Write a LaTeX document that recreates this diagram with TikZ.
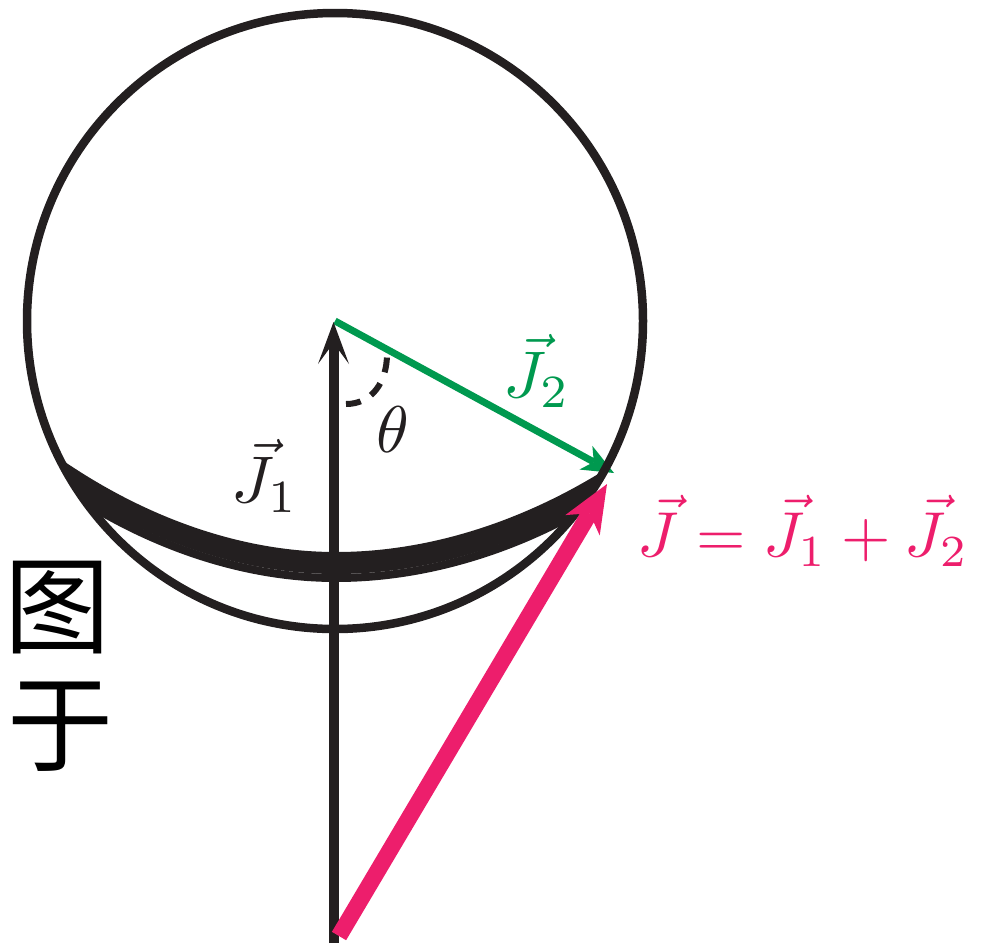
\documentclass[tikz,border=0pt]{standalone}
\usepackage{graphicx}
\usepackage{fontspec}
\newfontfamily\cjk{Noto Sans CJK SC}
\usetikzlibrary{arrows.meta}
\definecolor{ink}{RGB}{35,31,32}
\definecolor{jpink}{RGB}{237,30,108}
\definecolor{jgreen}{RGB}{0,153,79}
\newcommand{\hugemathlabel}[2][6.6]{\scalebox{#1}{$#2$}}
\tikzset{
  ring/.style={draw=ink, line width=8.5pt},
  band/.style={draw=ink, line width=8pt},
  jonearrow/.style={draw=ink, line width=10pt,
    -{Stealth[length=42pt, width=31pt, inset=21pt, line width=0pt]}},
  jtwoarrow/.style={draw=jgreen, line width=7pt,
    -{Stealth[length=32pt, width=27pt, inset=9pt, line width=0pt]}},
  jsumarrow/.style={draw=jpink, line width=16.5pt,
    -{Stealth[length=48pt, width=40pt, inset=14pt, line width=0pt]}},
  anglemark/.style={draw=ink, line width=6pt, dash pattern=on 15pt off 12pt},
  lbl/.style={inner sep=0pt},
  cjklbl/.style={inner sep=0pt, font=\cjk\fontsize{106}{110}\selectfont, text=black}
}
\begin{document}
\begin{tikzpicture}[x=1pt, y=-1pt]
\useasboundingbox (0,0) rectangle (985,943);
% key points
\coordinate (O) at (335,321);
\coordinate (J1base) at (333.5,943);
\coordinate (J1tip) at (333.5,322);
\coordinate (J2tip) at (614,473);
\coordinate (Jbase) at (339,936);
\coordinate (Jtip) at (607,484);
\coordinate (th1) at (346,404);
\coordinate (th2) at (387,354);
% J2 vector (under the circle)
\draw[jtwoarrow] (O) -- (J2tip);
% sphere outline
\draw[ring] (O) circle[radius=308];
% precession band
\draw[band] (63,465.5) parabola bend (336,556) (601,477);
\draw[band] (70,477.5) parabola bend (336,563) (593,489);
\draw[band] (77,489) parabola bend (336,570) (585,500.7);
\draw[band] (88,504) parabola bend (336,578) (575,514);
% J1 vector
\draw[jonearrow] (J1base) -- (J1tip);
% angle
\draw[anglemark] (th1) .. controls (372,404) and (387,382) .. (th2);
% J vector
\draw[jsumarrow] (Jbase) -- (Jtip);
% labels
\node[lbl, text=jgreen] (lJ2) at (537,371) {\hugemathlabel{\vec{J}_2}};
\node[lbl, text=ink] (lJ1) at (265,476) {\hugemathlabel{\vec{J}_1}};
\node[lbl, text=ink] (lth) at (393,430) {\hugemathlabel{\theta}};
\node[lbl, text=jpink] (lJ) at (803,531) {\hugemathlabel[6.35]{\vec{J}=\vec{J}_1+\vec{J}_2}};
\node[cjklbl] (c1) at (58,608) {图};
\node[cjklbl] (c2) at (61,727) {于};
\end{tikzpicture}
\end{document}
